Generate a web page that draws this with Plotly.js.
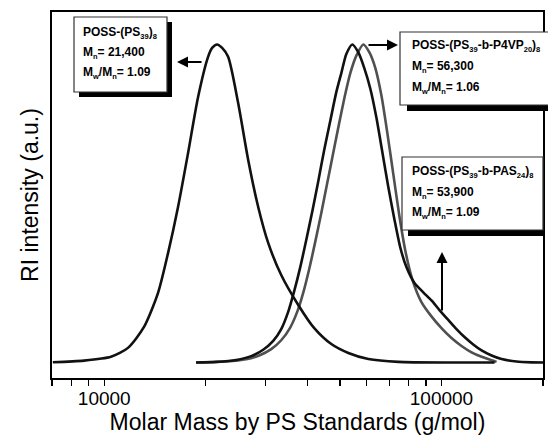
<!DOCTYPE html>
<html>
<head>
<meta charset="utf-8">
<script src="https://cdn.plot.ly/plotly-3.0.1.min.js"></script>
<style>html,body{margin:0;padding:0;background:#fff;}#chart{width:548px;height:438px;}</style>
</head>
<body>
<div id="chart"></div>
<script>
// POSS-(PS39)8
const ps_mass = [7040, 8705, 10470, 11760, 13120, 14440, 15460, 16550, 17720, 18980, 20320, 20890, 21610, 22370, 23300, 24950, 26720, 28610, 30630, 33480, 37610, 41950, 47130, 52950, 60700, 74510, 107070, 143700];
const ps_int  = [0.001, 0.006, 0.018, 0.046, 0.112, 0.219, 0.344, 0.489, 0.658, 0.835, 0.961, 0.989, 1.0, 0.989, 0.961, 0.816, 0.637, 0.489, 0.376, 0.275, 0.181, 0.108, 0.058, 0.030, 0.011, 0.002, 0.0, 0.0];

// POSS-(PS39-b-PAS24)8 (black)
const pas_mass = [18720, 21460, 24610, 27280, 29600, 31700, 33480, 35130, 36600, 38130, 39720, 41390, 43120, 44930, 46810, 48770, 50470, 52230, 54400, 56690, 59070, 61550, 64120, 66810, 69600, 72520, 75550, 78710, 83160, 88450, 93390, 98640, 104900, 110800, 117000, 124470, 131500, 140770, 150730, 167000, 185090, 200000];
const pas_int  = [0, 0.002, 0.008, 0.02, 0.04, 0.068, 0.105, 0.16, 0.225, 0.3, 0.385, 0.475, 0.57, 0.67, 0.76, 0.85, 0.91, 0.97, 1.0, 0.975, 0.925, 0.86, 0.77, 0.66, 0.55, 0.45, 0.36, 0.3, 0.25, 0.22, 0.195, 0.165, 0.133, 0.105, 0.08, 0.056, 0.038, 0.022, 0.011, 0.003, 0.0005, 0];

// POSS-(PS39-b-P4VP20)8 (grey)
const p4vp_mass = [18720, 22980, 26350, 28800, 31270, 33480, 35600, 37360, 38920, 40550, 42250, 44020, 45860, 47780, 49790, 51870, 53660, 55930, 58660, 61130, 63690, 66340, 69130, 72020, 75040, 78180, 82010, 87220, 93390, 100000, 107070, 114660, 122780, 131500, 140770, 145660];
const p4vp_int  = [0, 0.003, 0.01, 0.022, 0.042, 0.07, 0.11, 0.16, 0.22, 0.295, 0.38, 0.47, 0.565, 0.66, 0.755, 0.845, 0.91, 0.965, 1.0, 0.975, 0.925, 0.84, 0.72, 0.59, 0.46, 0.35, 0.26, 0.19, 0.145, 0.108, 0.077, 0.052, 0.032, 0.018, 0.007, 0.002];

const tick_vals = [7000, 8000, 9000, 10000, 20000, 30000, 40000, 50000, 60000, 70000, 80000, 90000, 100000, 200000];
const tick_text = ['', '', '', '10000', '', '', '', '', '', '', '', '', '100000', ''];

function sb(t) { return '<sub><span style="font-size:7.5px">' + t + '</span></sub>'; }
const box1_lines = ['POSS-(PS' + sb('39') + ')' + sb('8'), 'M' + sb('n') + '= 21,400', 'M' + sb('w') + '/M' + sb('n') + '= 1.09'];
const box2_lines = ['POSS-(PS' + sb('39') + '-b-P4VP' + sb('20') + ')' + sb('8'), 'M' + sb('n') + '= 56,300', 'M' + sb('w') + '/M' + sb('n') + '= 1.06'];
const box3_lines = ['POSS-(PS' + sb('39') + '-b-PAS' + sb('24') + ')' + sb('8'), 'M' + sb('n') + '= 53,900', 'M' + sb('w') + '/M' + sb('n') + '= 1.09'];

const traces = [
  {x: p4vp_mass, y: p4vp_int, mode: 'lines', line: {color: '#505050', width: 2.6, shape: 'spline', smoothing: 0.7}, hoverinfo: 'skip'},
  {x: pas_mass, y: pas_int, mode: 'lines', line: {color: '#111111', width: 2.6, shape: 'spline', smoothing: 0.7}, hoverinfo: 'skip'},
  {x: ps_mass, y: ps_int, mode: 'lines', line: {color: '#111111', width: 2.6, shape: 'spline', smoothing: 0.7}, hoverinfo: 'skip'}
];

const W = 491, H = 366, L = 52, T = 12;
function px(x) { return (x - L) / W; }
function py(y) { return (T + H - y) / H; }

function rect(x0, y0, x1, y1, fill, line) {
  return {type: 'rect', xref: 'paper', yref: 'paper', x0: px(x0), x1: px(x1), y0: py(y1), y1: py(y0),
          fillcolor: fill, line: {color: line || fill, width: line ? 1.2 : 0}, layer: 'above'};
}

const shapes = [
  rect(79, 22, 172, 97, '#000'), rect(74, 17, 167, 92, '#fff', '#333'),
  rect(407, 37, 556, 111, '#000'), rect(400, 32, 552, 105, '#fff', '#333'),
  rect(408, 162, 543, 236, '#000'), rect(402, 157, 543, 230, '#fff', '#333')
];

const textFont = {family: 'Liberation Sans, Arial, sans-serif', size: 12, color: '#000', weight: 'bold'};
const annotations = [];
function addLines(lines, x, ys) {
  lines.forEach((t, i) => annotations.push({xref: 'paper', yref: 'paper', x: px(x), y: py(ys[i]), xanchor: 'left', yanchor: 'middle',
    text: '<b>' + t + '</b>', showarrow: false, font: textFont}));
}
addLines(box1_lines, 81, [33, 53, 73]);
addLines(box2_lines, 410, [46, 67, 88]);
addLines(box3_lines, 410, [172, 193, 213]);

function arrow(hx, hy, ax, ay) {
  annotations.push({xref: 'paper', yref: 'paper', x: px(hx), y: py(hy), ax: ax, ay: ay, text: '', showarrow: true,
    arrowhead: 2, arrowsize: 1.1, arrowwidth: 2, arrowcolor: '#000', standoff: 0});
}
arrow(177, 62, 26, 0);
arrow(398, 45, -31, 0);
arrow(442, 252, 0, 60);

const layout = {
  width: 548, height: 438,
  margin: {l: L, r: 548 - L - W, t: T, b: 438 - T - H},
  paper_bgcolor: '#fff', plot_bgcolor: '#fff',
  showlegend: false,
  font: {family: 'Liberation Sans, Arial, sans-serif', color: '#000'},
  xaxis: {
    type: 'log', range: [Math.log10(7000), Math.log10(200000)],
    tickmode: 'array', tickvals: tick_vals, ticktext: tick_text,
    ticks: 'outside', ticklen: 6, tickwidth: 1.2, tickcolor: '#000',
    ticklabelstandoff: -3,
    showline: true, linecolor: '#000', linewidth: 1.6, mirror: true,
    showgrid: false, zeroline: false,
    tickfont: {size: 19, color: '#000'},
    title: {text: 'Molar Mass by PS Standards (g/mol)', font: {size: 23, color: '#000'}, standoff: 5}
  },
  yaxis: {
    range: [-0.0487, 1.102],
    showticklabels: false, ticks: '',
    showline: true, linecolor: '#000', linewidth: 1.6, mirror: true,
    showgrid: false, zeroline: false,
    title: {text: 'RI intensity (a.u.)', font: {size: 23, color: '#000'}, standoff: 5}
  },
  shapes: shapes,
  annotations: annotations
};

Plotly.newPlot('chart', traces, layout, {displayModeBar: false, staticPlot: true});
</script>
</body>
</html>
